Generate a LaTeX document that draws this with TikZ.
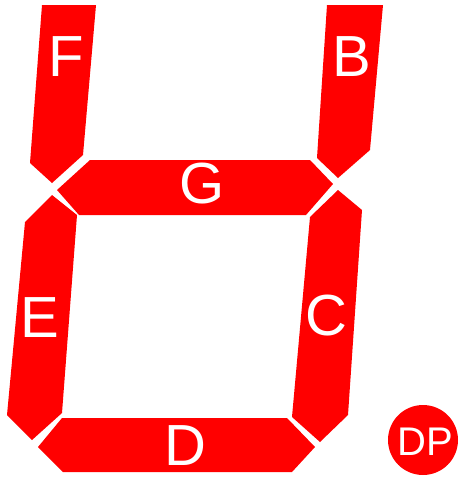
\documentclass[tikz,border=0pt]{standalone}
\usepackage{fontspec}
\setmainfont{Liberation Sans}
\begin{document}
\begin{tikzpicture}[x=1pt,y=-1pt,
  seg/.style={fill=segred,draw=none},
  lbl/.style={text=white,inner sep=0pt,font=\fontsize{58}{58}\selectfont},
  dplbl/.style={text=white,inner sep=0pt,font=\fontsize{40}{40}\selectfont}]
\definecolor{segred}{RGB}{255,0,0}
\useasboundingbox (0,0) rectangle (460,483);
% F
\fill[seg] (42,5) -- (96,5) -- (83,155) -- (52,183) -- (30,163) -- cycle;
% B
\fill[seg] (327,5) -- (383,5) -- (370,150) -- (338,178) -- (317,158) -- cycle;
% G
\fill[seg] (90,160) -- (310,160) -- (333,184) -- (306,215) -- (79,215) -- (57,190) -- cycle;
% E
\fill[seg] (52,195) -- (77,215) -- (62,413) -- (32,440) -- (7,415) -- (25,222) -- cycle;
% C
\fill[seg] (338,190) -- (362,210) -- (348,415) -- (320,442) -- (292,417) -- (310,217) -- cycle;
% D
\fill[seg] (62,418) -- (287,418) -- (315,447) -- (292,472) -- (63,472) -- (38,447) -- cycle;
% DP
\node[circle,fill=segred,minimum size=70pt,inner sep=0pt] (dp) at (423,440) {};
\node[dplbl] (dpt) at (425,442) {DP};
\node[lbl] (f) at (66,57) {F};
\node[lbl] (b) at (352,57) {B};
\node[lbl] (g) at (202,184) {G};
\node[lbl] (e) at (40,318) {E};
\node[lbl] (c) at (326,316) {C};
\node[lbl] (d) at (185,446) {D};
\end{tikzpicture}
\end{document}
